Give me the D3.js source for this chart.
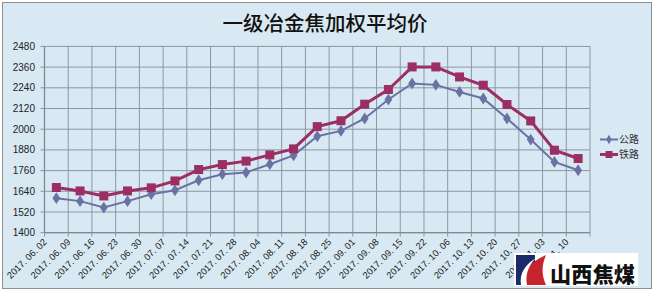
<!DOCTYPE html>
<html><head><meta charset="utf-8">
<script src="https://cdn.jsdelivr.net/npm/d3@7"></script>
<style>
html,body{margin:0;padding:0;background:#fff;}
svg{display:block;}
</style></head>
<body>
<script>
const categories = ["2017. 06. 02","2017. 06. 09","2017. 06. 16","2017. 06. 23","2017. 06. 30","2017. 07. 07","2017. 07. 14","2017. 07. 21","2017. 07. 28","2017. 08. 04","2017. 08. 11","2017. 08. 18","2017. 08. 25","2017. 09. 01","2017. 09. 08","2017. 09. 15","2017. 09. 22","2017. 10. 06","2017. 10. 13","2017. 10. 20","2017. 10. 27","2017. 11. 03","2017. 11. 10"];
const road = [1600,1583,1546,1583,1623,1646,1704,1739,1749,1797,1848,1959,1990,2062,2172,2265,2257,2216,2178,2062,1940,1810,1762];
const rail = [1662,1642,1613,1642,1660,1700,1766,1795,1815,1851,1886,2015,2049,2145,2230,2361,2361,2303,2255,2143,2048,1878,1830];
const yTicks = [1400,1520,1640,1760,1880,2000,2120,2240,2360,2480];
const seriesNames = ["公路","铁路"];
const title = "一级冶金焦加权平均价";
const logoText = "山西焦煤";

const W=656,H=294;
const svg=d3.select("body").append("svg").attr("width",W).attr("height",H);
svg.append("rect").attr("x",2.5).attr("y",2.5).attr("width",649).attr("height",286)
  .attr("fill","#d9e9f3").attr("stroke","#8f8f8f").attr("stroke-width",1);

const pL=44.5,pR=590,pT=46.4,pB=232.7;
const x=d3.scaleBand().domain(categories).range([pL,pR]).padding(0);
const y=d3.scaleLinear().domain([1400,2480]).range([pB,pT]);
const gridC="#8a98a3";

svg.append("text").attr("x",325).attr("y",31).attr("text-anchor","middle")
  .attr("font-family","'Noto Sans CJK SC'").attr("font-size",20.5).attr("font-weight",500)
  .attr("fill","#111").text(title);

const g=svg.append("g");
g.selectAll("line.h").data(yTicks).join("line").attr("class","h")
  .attr("x1",pL-4).attr("x2",pR).attr("y1",d=>y(d)).attr("y2",d=>y(d))
  .attr("stroke",gridC).attr("stroke-width",1);
const bounds=categories.map(c=>x(c)).concat([x(categories[categories.length-1])+x.bandwidth()]);
g.selectAll("line.v").data(bounds).join("line").attr("class","v")
  .attr("x1",d=>d).attr("x2",d=>d).attr("y1",pT).attr("y2",pB+4)
  .attr("stroke",gridC).attr("stroke-width",1);
g.append("line").attr("x1",pL).attr("x2",pL).attr("y1",pT).attr("y2",pB).attr("stroke","#7d8a94").attr("stroke-width",1.3);
g.append("line").attr("x1",pL).attr("x2",pR).attr("y1",pB).attr("y2",pB).attr("stroke","#7d8a94").attr("stroke-width",1.3);

g.selectAll("text.yl").data(yTicks).join("text").attr("class","yl")
  .attr("x",35).attr("y",d=>y(d)+3.5).attr("text-anchor","end")
  .attr("font-family","'Liberation Sans'").attr("font-size",10).attr("fill","#222").text(d=>d);

g.selectAll("text.xl").data(categories).join("text").attr("class","xl")
  .attr("transform",d=>`translate(${x(d)+x.bandwidth()/2-9},${pB+10}) rotate(-45)`)
  .attr("text-anchor","end")
  .attr("font-family","'Liberation Sans'").attr("font-size",9.3).attr("fill","#222").text(d=>d);

const cx=d=>x(d)+x.bandwidth()/2;
const roadC="#6a71a3", railC="#9b2f63";
const line=d3.line().x((d,i)=>cx(categories[i])).y(d=>y(d));
g.append("path").datum(road).attr("d",line).attr("fill","none").attr("stroke",roadC).attr("stroke-width",2);
g.append("path").datum(rail).attr("d",line).attr("fill","none").attr("stroke",railC).attr("stroke-width",3);
g.selectAll("path.dm").data(road).join("path").attr("class","dm")
  .attr("d",d3.symbol(d3.symbolDiamond,40))
  .attr("transform",(d,i)=>`translate(${cx(categories[i])},${y(d)}) scale(1.15,1)`)
  .attr("fill",roadC);
g.selectAll("rect.sq").data(rail).join("rect").attr("class","sq")
  .attr("x",(d,i)=>cx(categories[i])-4.5).attr("y",d=>y(d)-4.5).attr("width",9).attr("height",9)
  .attr("fill",railC);

const lg=svg.append("g");
[[seriesNames[0],roadC,139.5,2],[seriesNames[1],railC,154.5,3]].forEach(([n,c,ly,sw],k)=>{
  lg.append("line").attr("x1",600).attr("x2",618).attr("y1",ly).attr("y2",ly).attr("stroke",c).attr("stroke-width",sw);
  if(k===0) lg.append("path").attr("d",d3.symbol(d3.symbolDiamond,26)).attr("transform",`translate(609,${ly})`).attr("fill",c);
  else lg.append("rect").attr("x",605.5).attr("y",ly-3.5).attr("width",7).attr("height",7).attr("fill",c);
  lg.append("text").attr("x",619).attr("y",ly+3.5).attr("font-family","'Noto Sans CJK SC'").attr("font-size",10).attr("fill","#333").text(n);
});

const lo=svg.append("g");
lo.append("rect").attr("x",514).attr("y",253).attr("width",124).attr("height",33).attr("fill","#fff");
lo.append("rect").attr("x",516).attr("y",255).attr("width",19).attr("height",30).attr("fill","#1b2a6b");
lo.append("path").attr("d","M524,285 C522,272 530,262 546,255 C542,264 541,274 546,285 Z").attr("fill","#c8232c");
lo.append("path").attr("d","M521,285 C519,273 526,264 536,258 C528,266 525,275 527,285 Z").attr("fill","#fff");
lo.append("text").attr("x",550).attr("y",282).attr("font-family","'Noto Sans CJK SC'").attr("font-weight",900)
  .attr("font-size",21).attr("fill","#111").attr("textLength",85).text(logoText);
</script>
</body></html>
